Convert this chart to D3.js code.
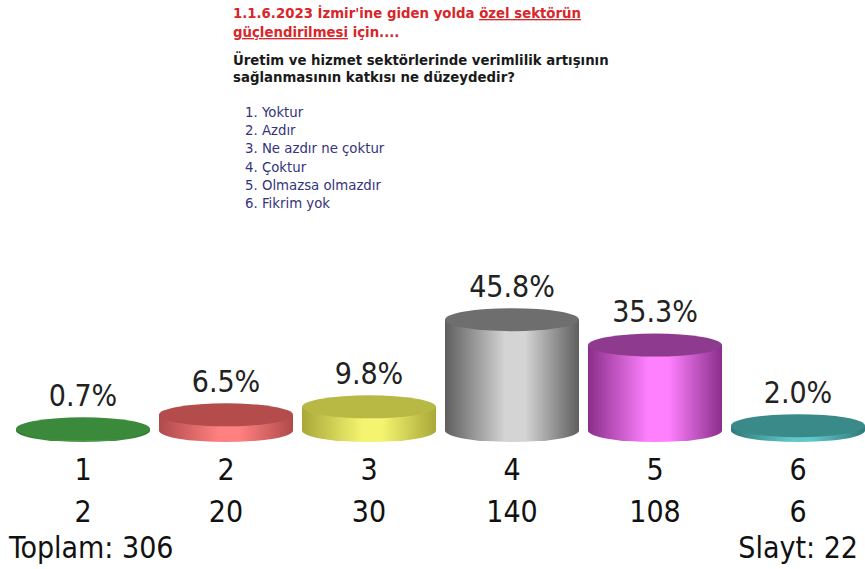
<!DOCTYPE html>
<html><head><meta charset="utf-8">
<script src="https://cdn.jsdelivr.net/npm/d3@7/dist/d3.min.js"></script>
<style>body{margin:0;background:#fff}svg{display:block}</style>
</head><body><svg id="c" width="865" height="569"></svg>
<script>
const categories = ["1","2","3","4","5","6"];
const counts = [2,20,30,140,108,6];
const percents = [0.7,6.5,9.8,45.8,35.3,2.0];
const percentLabels = ["0.7%","6.5%","9.8%","45.8%","35.3%","2.0%"];
const options = ["1. Yoktur","2. Azdır","3. Ne azdır ne çoktur","4. Çoktur","5. Olmazsa olmazdır","6. Fikrim yok"];
const totalLabel = "Toplam: 306";
const slideLabel = "Slayt: 22";
const titleParts1 = [["1.1.6.2023 İzmir'ine giden yolda ", false],["özel sektörün", true]];
const titleParts2 = [["güçlendirilmesi", true],[" için....", false]];
const question = ["Üretim ve hizmet sektörlerinde verimlilik artışının","sağlanmasının katkısı ne düzeydedir?"];

const colors = [
  {top:"#3b8a3b", dark:"#2f7a2f", light:"#4a9a4a"},
  {top:"#b44c4c", dark:"#b04a4a", light:"#ff8080"},
  {top:"#b8b844", dark:"#a8a838", light:"#f4f470"},
  {top:"#6e6e6e", dark:"#5e5e5e", light:"#d4d4d4"},
  {top:"#8e3a8e", dark:"#8a2e8a", light:"#ff80ff"},
  {top:"#3a8a8a", dark:"#2f7a7a", light:"#60c8c8"}
];

const svg = d3.select("#c");
const font = "'DejaVu Sans', Verdana, sans-serif";
const hsize = 13.3;

// header
const t1 = svg.append("text").attr("x",233).attr("y",18).attr("font-family",font).attr("font-weight","bold").attr("font-size",hsize).attr("fill","#d8262a");
titleParts1.forEach(p=>t1.append("tspan").text(p[0]).attr("text-decoration",p[1]?"underline":null));
const t2 = svg.append("text").attr("x",233).attr("y",37).attr("font-family",font).attr("font-weight","bold").attr("font-size",hsize).attr("fill","#d8262a");
titleParts2.forEach(p=>t2.append("tspan").text(p[0]).attr("text-decoration",p[1]?"underline":null));
svg.selectAll("text.q").data(question).join("text").attr("class","q")
  .attr("x",233).attr("y",(d,i)=>65+i*17).attr("font-family",font).attr("font-weight","bold")
  .attr("font-size",hsize).attr("fill","#1a1a1a").text(d=>d);
svg.selectAll("text.opt").data(options).join("text").attr("class","opt")
  .attr("x",245).attr("y",(d,i)=>117+i*18.2).attr("font-family",font)
  .attr("font-size",hsize).attr("fill","#34347c").text(d=>d);

// scales
const x = d3.scalePoint().domain(categories).range([83,798]);
const y = d3.scaleLinear().domain([0,50]).range([430.5,430.5-121]);
const rx = 67, ry = 11.5;

const defs = svg.append("defs");
colors.forEach((c,i)=>{
  const g = defs.append("linearGradient").attr("id","side"+i).attr("x1","0").attr("x2","1").attr("y1","0").attr("y2","0");
  g.append("stop").attr("offset","0").attr("stop-color",c.dark);
  g.append("stop").attr("offset","0.45").attr("stop-color",c.light);
  g.append("stop").attr("offset","0.6").attr("stop-color",c.light);
  g.append("stop").attr("offset","1").attr("stop-color",c.dark);
});

const data = categories.map((c,i)=>({c,i,v:percents[i],n:counts[i],lab:percentLabels[i]}));
const g = svg.append("g");
const cyl = g.selectAll("g.cyl").data(data).join("g").attr("class","cyl");
cyl.append("path").attr("fill",d=>`url(#side${d.i})`)
  .attr("d",d=>{
    const cx=x(d.c), yb=y(0), yt=y(d.v);
    return `M${cx-rx},${yt} L${cx-rx},${yb} A${rx},${ry} 0 0 0 ${cx+rx},${yb} L${cx+rx},${yt} Z`;
  });
cyl.append("ellipse").attr("cx",d=>x(d.c)).attr("cy",d=>y(d.v)).attr("rx",rx).attr("ry",ry)
  .attr("fill",d=>colors[d.i].top);

const cfont = "'DejaVu Sans Condensed', 'DejaVu Sans', sans-serif";
cyl.append("text").attr("x",d=>x(d.c)).attr("y",d=>y(d.v)-23).attr("text-anchor","middle")
  .attr("font-family",cfont).attr("font-size",30).attr("fill","#222").text(d=>d.lab);

svg.selectAll("text.cat").data(data).join("text").attr("class","cat")
  .attr("x",d=>x(d.c)).attr("y",480).attr("text-anchor","middle")
  .attr("font-family",cfont).attr("font-size",30).attr("fill","#111").text(d=>d.c);
svg.selectAll("text.cnt").data(data).join("text").attr("class","cnt")
  .attr("x",d=>x(d.c)).attr("y",522).attr("text-anchor","middle")
  .attr("font-family",cfont).attr("font-size",30).attr("fill","#111").text(d=>d.n);
svg.append("text").attr("x",9).attr("y",558).attr("font-family",cfont).attr("font-size",30).attr("fill","#111").text(totalLabel);
svg.append("text").attr("x",858).attr("y",558).attr("text-anchor","end").attr("font-family",cfont).attr("font-size",30).attr("fill","#111").text(slideLabel);
</script></body></html>
